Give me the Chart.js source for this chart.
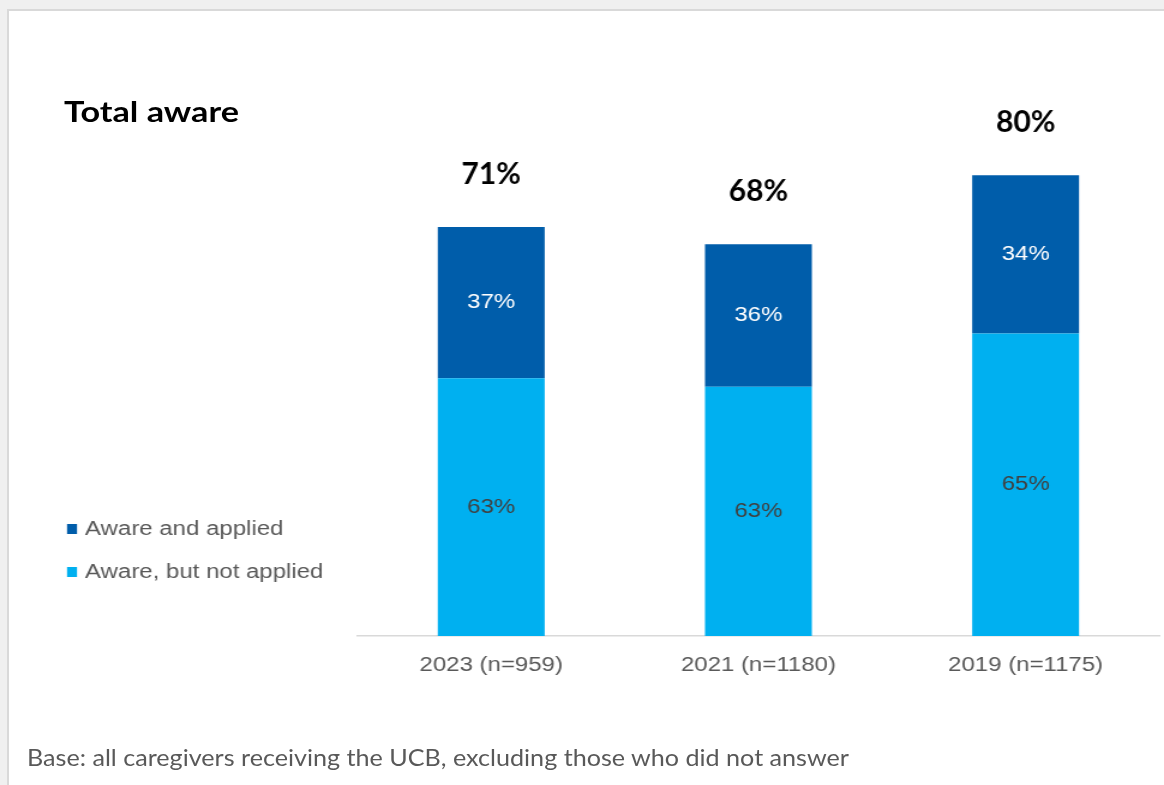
<!DOCTYPE html>
<html>
<head>
<meta charset="utf-8">
<script src="https://cdn.jsdelivr.net/npm/chart.js@4.4.1/dist/chart.umd.min.js"></script>
<style>
  html, body { margin: 0; padding: 0; width: 1164px; height: 785px; overflow: hidden; background: #f0f0f0; }
  #frame { position: absolute; left: 7px; top: 9px; right: -4px; bottom: -4px; background: #fff;
           border-left: 2px solid #d9d9d9; border-top: 2px solid #d9d9d9; }
  /* the chart picture in the source is stretched sideways */
  #stretch { position: absolute; left: 0; top: 0; width: 970px; height: 785px;
             transform: scaleX(1.2); transform-origin: 0 0; }
  .note { position: absolute; white-space: nowrap; font-family: Lato, sans-serif; line-height: 1;
          transform-origin: 0 0; }
  #title { left: 64px; top: 97px; font-size: 28px; font-weight: 700; color: #000; }
  #base { left: 27px; top: 745.6px; font-size: 23px; color: #595959; }
</style>
</head>
<body>
<div id="frame"></div>
<div id="stretch"><canvas id="chart" width="970" height="785"></canvas></div>
<div class="note" id="title" data-w="175">Total aware</div>
<div class="note" id="base" data-w="822">Base: all caregivers receiving the UCB, excluding those who did not answer</div>
<script>
const years = ['2023 (n=959)', '2021 (n=1180)', '2019 (n=1175)'];
const totalAware = [71, 68, 80];
const appliedShare = [37, 36, 34];
const notAppliedShare = [63, 63, 65];
const seriesNames = ['Aware and applied', 'Aware, but not applied'];

const SX = 1.2;

// each segment is its share of the total-aware bar
const segment = (shares) => shares.map((s, i) =>
  totalAware[i] * s / (appliedShare[i] + notAppliedShare[i]));

// segment labels, totals above bars and the legend on the left
const barText = {
  id: 'barText',
  afterDatasetsDraw(chart) {
    const ctx = chart.ctx;
    ctx.save();
    ctx.textAlign = 'center';
    ctx.textBaseline = 'middle';
    ctx.font = '20px "Liberation Sans", Arial, sans-serif';
    chart.data.datasets.forEach((ds, i) => {
      chart.getDatasetMeta(i).data.forEach((bar, j) => {
        ctx.fillStyle = ds.labelColor;
        ctx.fillText(ds.shares[j] + '%', bar.x, (bar.y + bar.base) / 2);
      });
    });

    // totals are plain text boxes in the source, not stretched
    ctx.font = 'bold 30px Lato, sans-serif';
    ctx.fillStyle = '#000';
    chart.getDatasetMeta(1).data.forEach((bar, j) => {
      ctx.save();
      ctx.translate(bar.x, bar.y - 53);
      ctx.scale(1 / SX, 1);
      ctx.fillText(totalAware[j] + '%', 0, 0);
      ctx.restore();
    });

    ctx.textAlign = 'left';
    ctx.textBaseline = 'alphabetic';
    ctx.font = '20px "Liberation Sans", Arial, sans-serif';
    [1, 0].forEach((di, row) => {
      const ds = chart.data.datasets[di];
      const y = 535 + row * 43;
      ctx.fillStyle = ds.backgroundColor;
      ctx.fillRect(67 / SX, y - 11, 10 / SX, 10);
      ctx.fillStyle = '#595959';
      ctx.fillText(ds.label, 85 / SX, y);
    });
    ctx.restore();
  }
};

new Chart(document.getElementById('chart'), {
  type: 'bar',
  data: {
    labels: years,
    datasets: [
      { label: seriesNames[1], data: segment(notAppliedShare), shares: notAppliedShare,
        backgroundColor: '#00B0F0', labelColor: '#404040' },
      { label: seriesNames[0], data: segment(appliedShare), shares: appliedShare,
        backgroundColor: '#005DAA', labelColor: '#ffffff' }
    ]
  },
  options: {
    responsive: false,
    animation: false,
    events: [],
    layout: { padding: { left: 298, right: 4, top: 60, bottom: 91 } },
    datasets: { bar: { barPercentage: 0.4, categoryPercentage: 1 } },
    plugins: { legend: { display: false }, tooltip: { enabled: false } },
    scales: {
      x: {
        stacked: true,
        grid: { display: false, drawTicks: false },
        border: { color: '#d9d9d9', width: 1.5 },
        ticks: { padding: 17, color: '#595959', font: { family: '"Liberation Sans", Arial, sans-serif', size: 20 } }
      },
      y: { stacked: true, display: false, min: 0, max: 100 }
    }
  },
  plugins: [barText]
});

// squeeze/stretch the slide texts to the widths they have in the source
document.querySelectorAll('.note').forEach(el => {
  const w = +el.dataset.w;
  el.style.transform = `scaleX(${w / el.getBoundingClientRect().width})`;
});
</script>
</body>
</html>
